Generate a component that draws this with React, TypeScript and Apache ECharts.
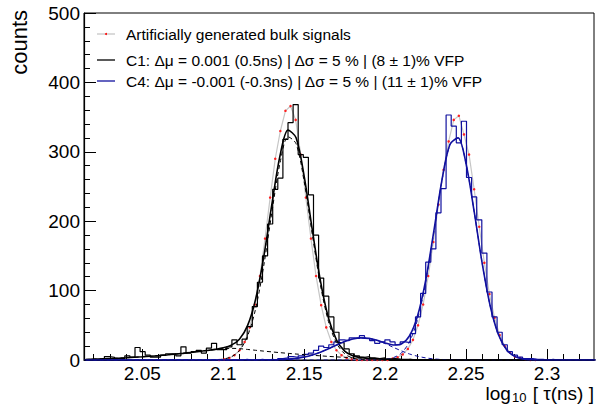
import React, { useEffect, useRef } from "react";
import * as echarts from "echarts";

// ---------- binning ----------
const binStart = 2.014;
const binWidth = 0.00315;

// ---------- histograms (counts per bin, 100 bins) ----------
const c1Counts = [
  0, 0, 1, 2, 5, 4, 2, 2, 6, 4,
  18, 12, 7, 4, 4, 7, 9, 9, 6, 19,
  10, 12, 14, 10, 17, 24, 15, 15, 19, 29,
  22, 30, 48, 77, 112, 150, 196, 246, 262, 318,
  342, 368, 296, 292, 238, 180, 118, 92, 62, 40,
  25, 16, 9, 6, 4, 5, 3, 2, 3, 1,
  2, 1, 0, 1, 0, 0, 0, 0, 0, 0,
  0, 0, 0, 0, 0, 0, 0, 0, 0, 0,
  0, 0, 0, 0, 0, 0, 0, 0, 0, 0,
  0, 0, 0, 0, 0, 0, 0, 0, 0, 0,
];

const c4Counts = [
  0, 0, 0, 0, 0, 0, 0, 0, 0, 0,
  0, 0, 0, 0, 0, 0, 0, 0, 0, 0,
  0, 0, 0, 0, 0, 0, 0, 0, 0, 0,
  0, 1, 0, 0, 1, 0, 1, 0, 2, 3,
  5, 4, 6, 8, 10, 14, 20, 18, 22, 26,
  29, 28, 32, 31, 35, 31, 28, 24, 26, 29,
  26, 22, 26, 25, 38, 62, 96, 141, 160, 212,
  247, 353, 337, 313, 344, 263, 235, 202, 154, 98,
  62, 40, 22, 12, 7, 4, 2, 2, 1, 1,
  0, 1, 0, 0, 0, 0, 0, 0, 0, 0,
];

// generated bulk signal, bins 26 .. 88
const bulkFirstBin = 26;
const bulkCounts = [
  0, 1, 3, 7,
  14, 26, 47, 80, 121, 175, 234, 290, 330, 359,
  366, 346, 296, 234, 175, 121, 79, 47, 26, 14,
  7, 3, 1, 0, 0, 0, 0, 0, 0, 0,
  2, 4, 8, 16, 29, 50, 80, 121, 170, 224,
  274, 315, 346, 352, 325, 296, 246, 192, 140, 95,
  61, 36, 20, 11, 5, 3, 1, 0, 0,
];

// ---------- fit curves, sampled from 2.015 every 0.005 (64 samples) ----------
const fitStart = 2.015;
const fitStep = 0.005;

const c1Tail = [
  0.8, 1.2, 1.6, 2.1, 2.6, 3.2, 3.9, 4.6, 5.4, 6.3,
  7.3, 8.4, 9.6, 10.9, 12.2, 13.6, 15, 16.2, 16.8, 16.4,
  15.2, 14, 12.8, 11.7, 10.6, 9.6, 8.6, 7.7, 6.8, 6,
  5.2, 4.5, 3.8, 3.2, 2.6, 2.1, 1.7, 1.3, 1, 0.7,
  0.5, 0.3, 0.2, 0.1, 0, 0, 0, 0, 0, 0,
  0, 0, 0, 0, 0, 0, 0, 0, 0, 0,
  0, 0, 0, 0,
];

const c1Peak = [
  0, 0, 0, 0, 0, 0, 0, 0, 0, 0,
  0, 0, 0, 0, 0, 0, 0.3, 1.3, 4.6, 13.5,
  34.3, 73.8, 135.6, 212.2, 283, 321.7, 311.6, 257, 180.9, 108.4,
  55.3, 24.1, 8.9, 2.8, 0.8, 0.2, 0, 0, 0, 0,
  0, 0, 0, 0, 0, 0, 0, 0, 0, 0,
  0, 0, 0, 0, 0, 0, 0, 0, 0, 0,
  0, 0, 0, 0,
];

const c1Total = [
  0.8, 1.2, 1.6, 2.1, 2.6, 3.2, 3.9, 4.6, 5.4, 6.3,
  7.3, 8.4, 9.6, 10.9, 12.2, 13.6, 15.3, 17.5, 21.4, 29.9,
  49.5, 87.8, 148.4, 223.9, 293.6, 331.3, 320.2, 264.7, 187.7, 114.4,
  60.5, 28.6, 12.7, 6.0, 3.4, 2.3, 1.7, 1.3, 1.0, 0.7,
  0.5, 0.3, 0.2, 0.1, 0, 0, 0, 0, 0, 0,
  0, 0, 0, 0, 0, 0, 0, 0, 0, 0,
  0, 0, 0, 0,
];

const c4Peak = [
  0, 0, 0, 0, 0, 0, 0, 0, 0, 0,
  0, 0, 0, 0, 0, 0, 0, 0, 0, 0,
  0, 0, 0, 0, 0, 0, 0, 0, 0, 0,
  0, 0, 0, 0, 0, 0, 0.2, 0.9, 3.3, 9.9,
  26, 58.1, 111.4, 183, 257.4, 310, 319.8, 282.4, 213.7, 138.5,
  76.8, 36.5, 14.9, 5.2, 1.5, 0.4, 0.1, 0, 0, 0,
  0, 0, 0, 0,
];

const c4Bump = [
  0, 0, 0, 0, 0, 0, 0, 0, 0, 0,
  0, 0, 0, 0, 0, 0, 0, 0, 0, 0,
  0, 0, 0.1, 0.25, 0.6, 1.2, 2.4, 4.3, 7.3, 11.3,
  16.2, 21.6, 26.6, 30.3, 31.9, 31.2, 28.2, 23.7, 18.3, 13.2,
  8.7, 5.4, 3.1, 1.6, 0.8, 0.35, 0.15, 0.06, 0, 0,
  0, 0, 0, 0, 0, 0, 0, 0, 0, 0,
  0, 0, 0, 0,
];

const c4Total = [
  0, 0, 0, 0, 0, 0, 0, 0, 0, 0,
  0, 0, 0, 0, 0, 0, 0, 0, 0, 0,
  0, 0, 0.1, 0.25, 0.6, 1.2, 2.4, 4.3, 7.3, 11.3,
  16.2, 21.6, 26.6, 30.3, 31.9, 31.2, 28.4, 24.6, 21.6, 23.1,
  34.7, 63.5, 114.5, 184.6, 258.2, 310.4, 320.0, 282.5, 213.7, 138.5,
  76.8, 36.5, 14.9, 5.2, 1.5, 0.4, 0.1, 0, 0, 0,
  0, 0, 0, 0,
];

// ---------- axes ----------
const xMin = 2.014;
const xMax = 2.329;
const xMajorTicks = [2.05, 2.1, 2.15, 2.2, 2.25, 2.3];
const xMinorTicks = [
  2.02, 2.03, 2.04, 2.06, 2.07, 2.08, 2.09, 2.11, 2.12, 2.13, 2.14,
  2.16, 2.17, 2.18, 2.19, 2.21, 2.22, 2.23, 2.24, 2.26, 2.27, 2.28,
  2.29, 2.31, 2.32,
];
const yMax = 500;
const yStep = 100;

// ---------- texts ----------
const legendLabels = [
  "Artificially generated bulk signals",
  "C1: \u0394\u03bc = 0.001 (0.5ns) | \u0394\u03c3 = 5 % | (8 \u00b1 1)% VFP",
  "C4: \u0394\u03bc = -0.001 (-0.3ns) | \u0394\u03c3 = 5 % | (11 \u00b1 1)% VFP",
];
const yTitle = "counts";

const FONT = "'Liberation Sans', Arial, Helvetica, sans-serif";
const BLUE = "#10109e";
const GRAY = "#c6c6c6";

function histPoints(counts: number[]) {
  const pts: number[][] = counts.map((v, i) => [binStart + i * binWidth, v]);
  pts.push([binStart + counts.length * binWidth, counts[counts.length - 1]]);
  return pts;
}
function centerPoints(counts: number[], first: number) {
  return counts.map((v, i) => [binStart + (first + i + 0.5) * binWidth, v]);
}
function fitPoints(vals: number[]) {
  return vals.map((v, k) => [fitStart + k * fitStep, v]);
}

export default function App() {
  const ref = useRef<HTMLDivElement>(null);
  useEffect(() => {
    const chart = echarts.init(ref.current!, null, { renderer: "svg" });
    const legendRowsY = [34, 60, 81];
    const legendColors = [GRAY, "#000000", BLUE];
    const legendGraphics: any[] = [];
    legendLabels.forEach((t, i) => {
      legendGraphics.push({
        type: "line",
        shape: { x1: 97, y1: legendRowsY[i], x2: 115, y2: legendRowsY[i] },
        style: { stroke: legendColors[i], lineWidth: 1.3 },
      });
      if (i === 0) {
        legendGraphics.push({
          type: "circle",
          shape: { cx: 106, cy: legendRowsY[i], r: 1 },
          style: { fill: "#ff0000" },
        });
      }
      legendGraphics.push({
        type: "text",
        x: 126,
        y: legendRowsY[i],
        style: {
          text: t,
          fontSize: 15.5,
          fontFamily: FONT,
          fill: "#000",
          align: "left",
          verticalAlign: "middle",
        },
      });
    });

    const option: any = {
      animation: false,
      backgroundColor: "#ffffff",
      grid: {
        left: 84,
        right: 9,
        top: 13,
        bottom: 48,
        show: true,
        borderColor: "#000",
        borderWidth: 1,
        backgroundColor: "transparent",
      },
      xAxis: [
        {
          type: "value",
          min: xMin,
          max: xMax,
          axisLine: { show: true, onZero: false, lineStyle: { color: "#000", width: 1.2 } },
          axisTick: {
            show: true,
            inside: true,
            length: 11,
            customValues: xMajorTicks,
            lineStyle: { color: "#000", width: 1 },
          },
          axisLabel: {
            customValues: xMajorTicks,
            formatter: (v: number) => String(Number(v.toFixed(2))),
            color: "#000",
            fontSize: 19,
            fontFamily: FONT,
            margin: 4,
          },
          splitLine: { show: false },
        },
        {
          type: "value",
          min: xMin,
          max: xMax,
          position: "bottom",
          axisLine: { show: false },
          axisTick: {
            show: true,
            inside: true,
            length: 6,
            customValues: xMinorTicks,
            lineStyle: { color: "#000", width: 1 },
          },
          axisLabel: { show: false },
          splitLine: { show: false },
        },
      ],
      yAxis: {
        type: "value",
        min: 0,
        max: yMax,
        interval: yStep,
        axisLine: { show: true, lineStyle: { color: "#000", width: 1.2 } },
        axisTick: { show: true, inside: true, length: 12, lineStyle: { color: "#000" } },
        minorTick: { show: true, splitNumber: 5, length: 6, lineStyle: { color: "#000" } },
        axisLabel: { color: "#000", fontSize: 19, fontFamily: FONT, margin: 4 },
        splitLine: { show: false },
      },
      series: [
        {
          name: "bulk",
          type: "line",
          data: centerPoints(bulkCounts, bulkFirstBin),
          symbol: "circle",
          symbolSize: 2.5,
          itemStyle: { color: "#ff2020" },
          lineStyle: { color: GRAY, width: 1.2 },
          z: 1,
        },
        {
          name: "c1hist",
          type: "line",
          step: "end",
          data: histPoints(c1Counts),
          showSymbol: false,
          lineStyle: { color: "#000", width: 1.2 },
          z: 2,
        },
        {
          name: "c4hist",
          type: "line",
          step: "end",
          data: histPoints(c4Counts),
          showSymbol: false,
          lineStyle: { color: BLUE, width: 1.2 },
          z: 2,
        },
        {
          name: "c1tail",
          type: "line",
          data: fitPoints(c1Tail),
          smooth: 0.3,
          showSymbol: false,
          lineStyle: { color: "#000", width: 1, type: [4, 3] },
          z: 3,
        },
        {
          name: "c1peak",
          type: "line",
          data: fitPoints(c1Peak),
          smooth: 0.3,
          showSymbol: false,
          lineStyle: { color: "#000", width: 1, type: [4, 3] },
          z: 3,
        },
        {
          name: "c4bump",
          type: "line",
          data: fitPoints(c4Bump),
          smooth: 0.3,
          showSymbol: false,
          lineStyle: { color: BLUE, width: 1, type: [4, 3] },
          z: 3,
        },
        {
          name: "c4peak",
          type: "line",
          data: fitPoints(c4Peak),
          smooth: 0.3,
          showSymbol: false,
          lineStyle: { color: BLUE, width: 1, type: [4, 3] },
          z: 3,
        },
        {
          name: "c1fit",
          type: "line",
          data: fitPoints(c1Total),
          smooth: 0.3,
          showSymbol: false,
          lineStyle: { color: "#000", width: 1.6 },
          z: 4,
        },
        {
          name: "c4fit",
          type: "line",
          data: fitPoints(c4Total),
          smooth: 0.3,
          showSymbol: false,
          lineStyle: { color: BLUE, width: 1.6 },
          z: 5,
        },
      ],
      graphic: [
        ...legendGraphics,
        {
          type: "text",
          x: 19,
          y: 10,
          rotation: Math.PI / 2,
          style: {
            text: yTitle,
            fontSize: 22,
            fontFamily: FONT,
            fill: "#000",
            align: "right",
            verticalAlign: "middle",
          },
        },
        {
          type: "text",
          x: 594,
          y: 393,
          style: {
            text: "{a|log}{b|10}{a| [ \u03c4(ns) ]}",
            align: "right",
            verticalAlign: "middle",
            fill: "#000",
            rich: {
              a: { fontSize: 19, fontFamily: FONT, fill: "#000" },
              b: { fontSize: 13, fontFamily: FONT, fill: "#000", padding: [9, 1, 0, 1] },
            },
          },
        },
      ],
    };
    chart.setOption(option);
    return () => chart.dispose();
  }, []);
  return (
    <div
      ref={ref}
      style={{ position: "fixed", left: 0, top: 0, width: 603, height: 408 }}
    />
  );
}
